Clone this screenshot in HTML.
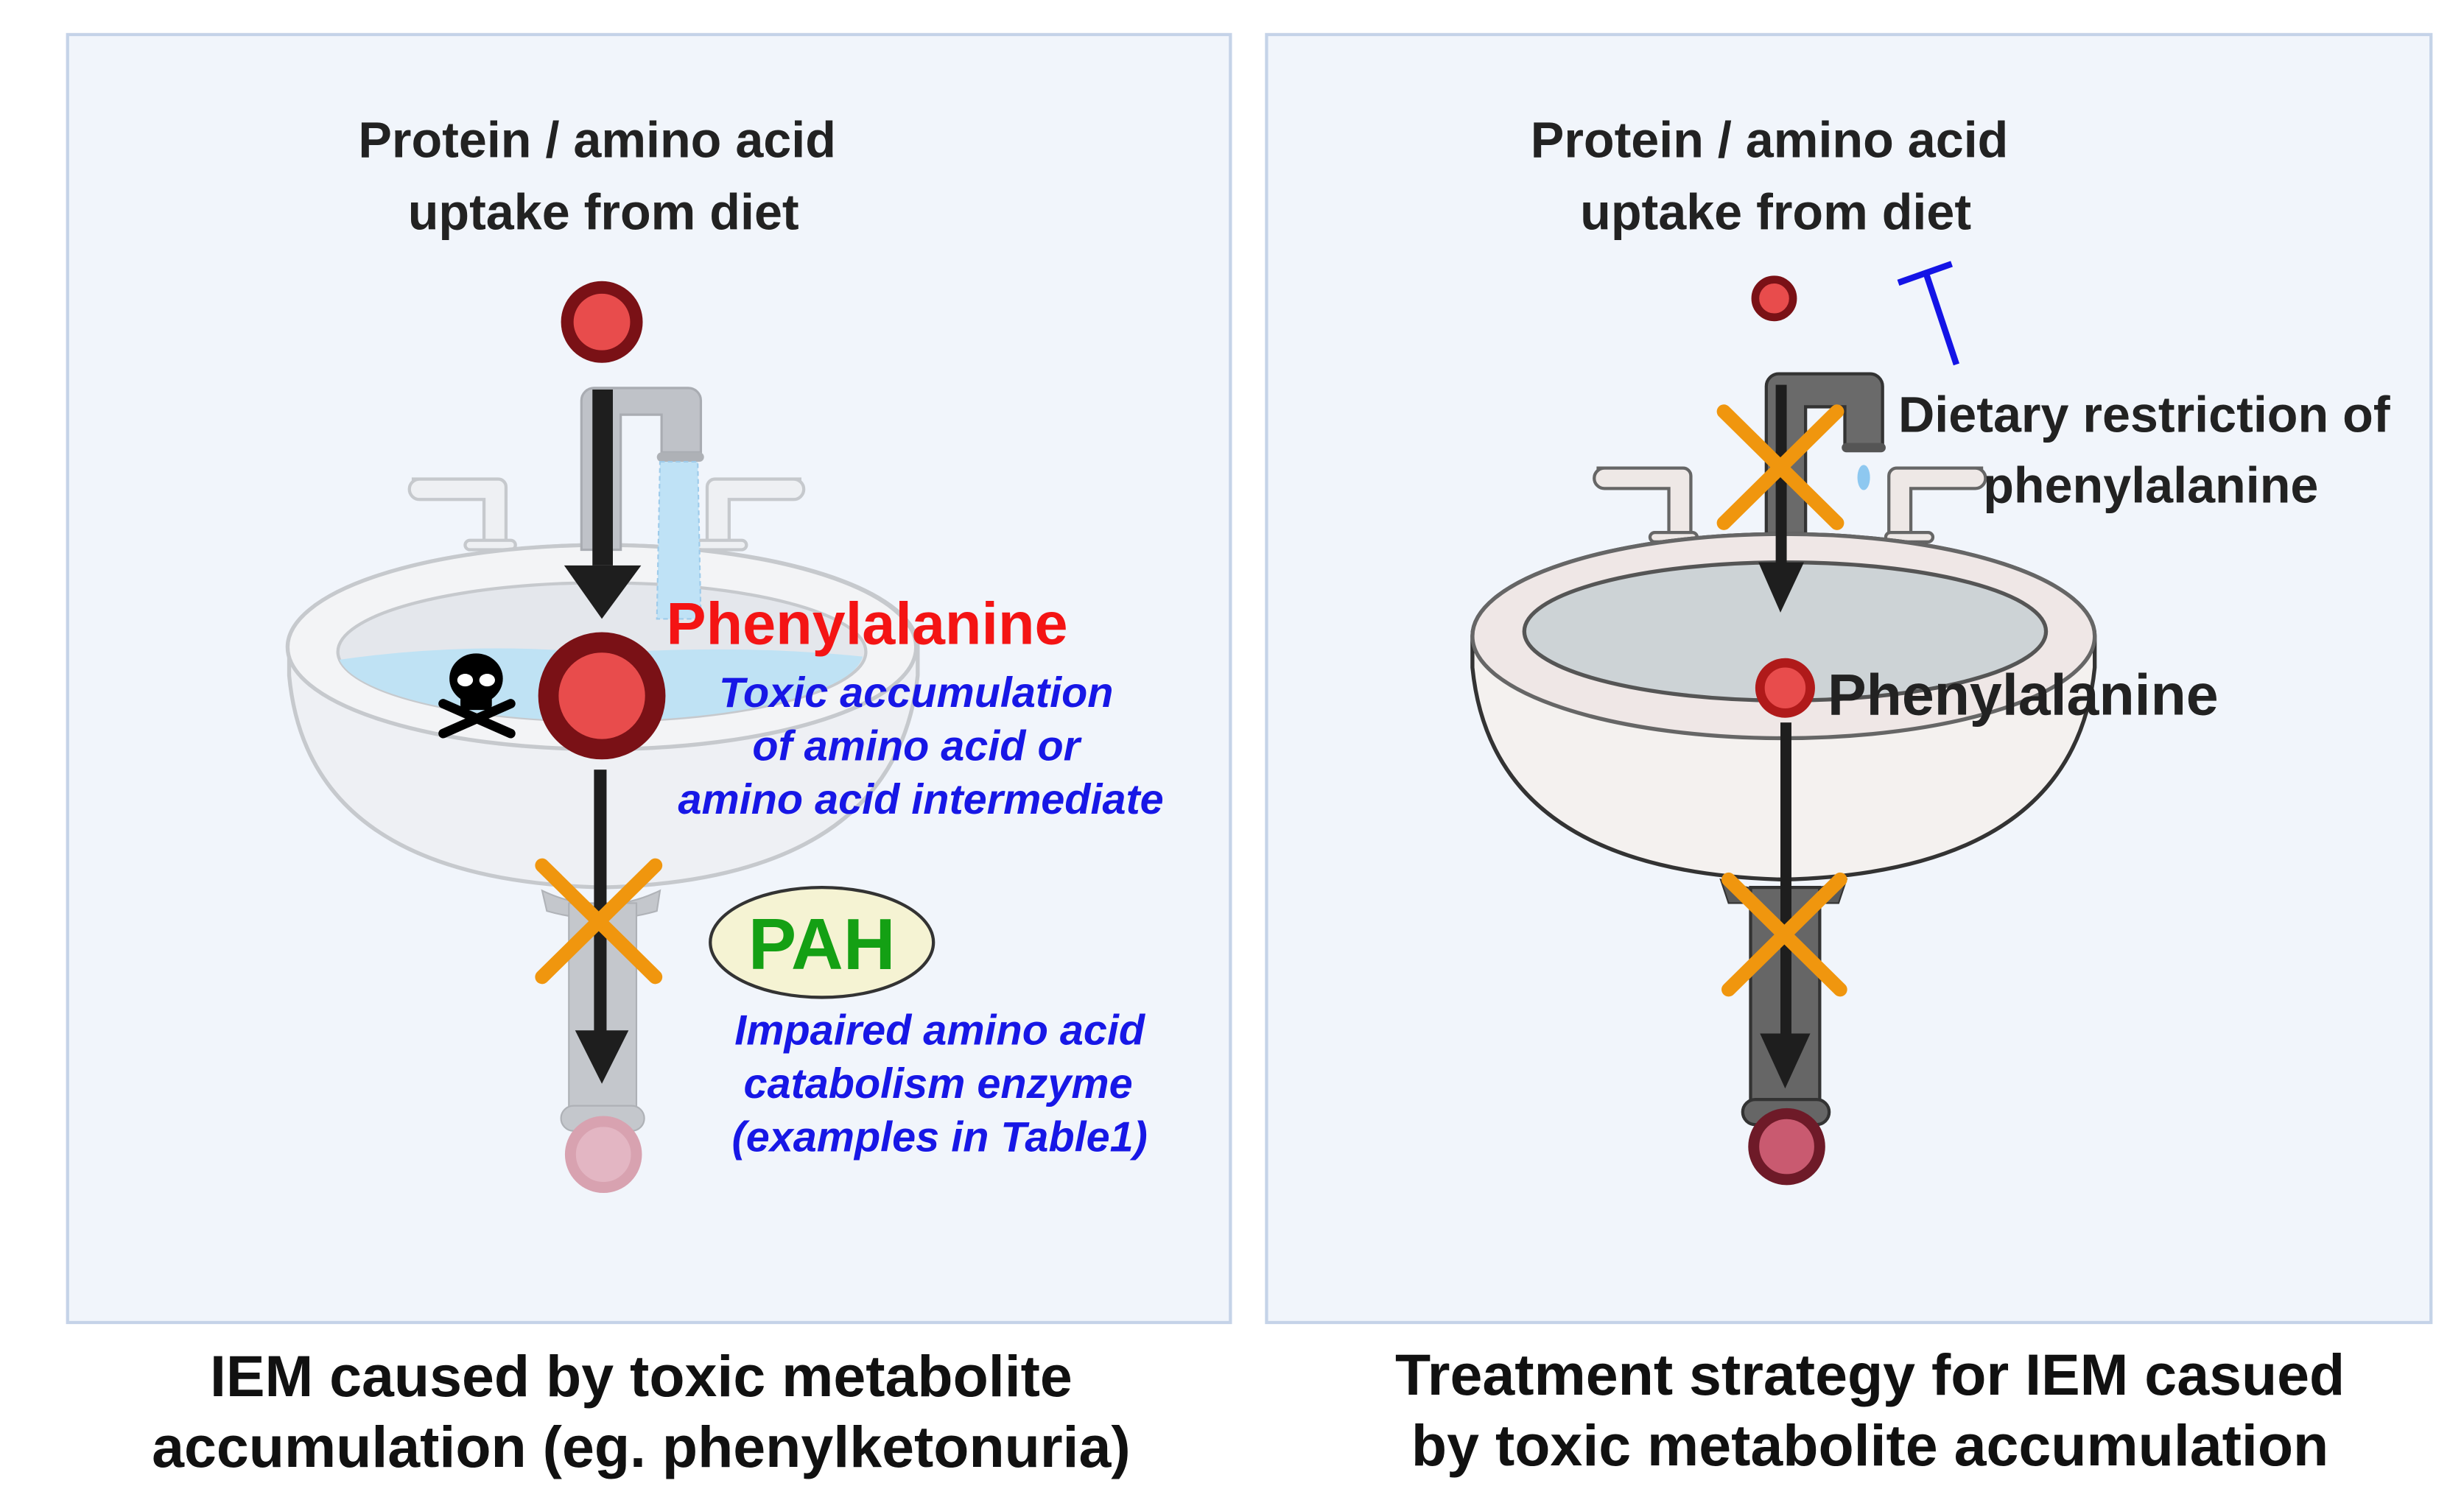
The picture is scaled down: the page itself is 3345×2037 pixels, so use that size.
<!DOCTYPE html>
<html><head><style>html,body{margin:0;padding:0;background:#fff}svg{display:block}text{font-family:"Liberation Sans",sans-serif;font-weight:bold}</style></head>
<body>
<svg width="3345" height="2037" viewBox="0 0 1568 955" preserveAspectRatio="none" xmlns="http://www.w3.org/2000/svg">
<rect width="1568" height="955" fill="#fff"/>
<rect x="43" y="22" width="740" height="820" fill="#f1f5fb" stroke="#c5d3e8" stroke-width="2"/>
<rect x="806" y="22" width="741" height="820" fill="#f1f5fb" stroke="#c5d3e8" stroke-width="2"/>

<!-- LEFT -->
<g font-size="32" fill="#222" text-anchor="middle">
<text x="380" y="100" fill="#222">Protein / amino acid</text>
<text x="384" y="146" fill="#222">uptake from diet</text>
</g>
<circle cx="383" cy="205" r="22" fill="#e84c4c" stroke="#7a1116" stroke-width="8"/>
<!-- handles -->
<g fill="#eef0f3" stroke="#c6c9cd" stroke-width="2">
<path d="M262 305 h55 a5 5 0 0 1 5 5 v38 h-14 v-30 h-41 a6 6 0 0 1 0 -13z"/>
<path d="M510 305 h-55 a5 5 0 0 0 -5 5 v38 h14 v-30 h41 a6 6 0 0 0 0 -13z"/>
<rect x="296" y="344" width="32" height="6" rx="3"/>
<rect x="443" y="344" width="32" height="6" rx="3"/>
</g>
<!-- sink -->
<path d="M184 412 A200 65 0 0 1 584 412 L584 430 Q570 560 383 565 Q196 560 184 430Z" fill="#eef0f4" stroke="#c6c9cd" stroke-width="2.5"/>
<ellipse cx="383" cy="412" rx="200" ry="65" fill="#f3f4f6" stroke="#c6c9cd" stroke-width="2.5"/>
<ellipse cx="383" cy="415" rx="168" ry="44" fill="#e4e7ec" stroke="#c6c9cd" stroke-width="2"/>
<path d="M216 420 Q300 408 383 416 Q470 410 549 418 A168 44 0 0 1 383 459 A168 44 0 0 1 216 420Z" fill="#bfe2f4"/>
<!-- faucet -->
<path d="M370 255 a8 8 0 0 1 8 -8 h60 a8 8 0 0 1 8 8 v33 h-25 v-24 h-26 v86 h-25z" fill="#bfc2c8" stroke="#a9acb2" stroke-width="1.5"/>
<rect x="418" y="288" width="30" height="6" rx="3" fill="#aeb1b6"/>
<path d="M420 294 h24 l2 100 h-28z" fill="#bfe2f6" stroke="#9ecbea" stroke-width="1" stroke-dasharray="3 2"/>
<!-- drain -->
<path d="M345 567 Q383 585 420 567 L418 580 Q383 590 348 580Z" fill="#c4c7cc" stroke="#b0b3b8"/>
<rect x="362" y="575" width="43" height="135" fill="#c4c7cc" stroke="#aeb1b6"/>
<rect x="357" y="704" width="53" height="16" rx="8" fill="#c4c7cc" stroke="#aeb1b6"/>
<circle cx="384" cy="735" r="21" fill="#e3b6c3" stroke="#d8a2b0" stroke-width="7"/>
<!-- arrows -->
<rect x="377" y="248" width="13" height="112" fill="#1e1e1e"/>
<polygon points="359,360 408,360 383,394" fill="#1e1e1e"/>
<circle cx="383" cy="443" r="34" fill="#e84c4c" stroke="#7a1116" stroke-width="13"/>
<rect x="378" y="490" width="8" height="168" fill="#1e1e1e"/>
<polygon points="366,656 400,656 383,690" fill="#1e1e1e"/>
<g stroke="#f0960e" stroke-width="9" stroke-linecap="round"><line x1="345" y1="551" x2="417" y2="622"/><line x1="417" y1="551" x2="345" y2="622"/></g>
<!-- skull -->
<g fill="#000">
<ellipse cx="303" cy="432" rx="17" ry="16"/><rect x="293" y="440" width="20" height="12" rx="3"/>
<g stroke="#000" stroke-width="6" stroke-linecap="round"><line x1="282" y1="448" x2="325" y2="467"/><line x1="325" y1="448" x2="282" y2="467"/></g>
<ellipse cx="296" cy="433" rx="5" ry="4" fill="#fff"/><ellipse cx="310" cy="433" rx="5" ry="4" fill="#fff"/>
</g>
<text x="424" y="410" font-size="38" fill="#f41414">Phenylalanine</text>
<g font-size="27" fill="#1717e6" font-style="italic" text-anchor="middle">
<text x="583" y="450">Toxic accumulation</text>
<text x="583" y="484">of amino acid or</text>
<text x="586" y="518">amino acid intermediate</text>
<text x="598" y="665">Impaired amino acid</text>
<text x="597" y="699">catabolism enzyme</text>
<text x="598" y="733">(examples in Table1)</text>
</g>
<ellipse cx="523" cy="600" rx="71" ry="35" fill="#f5f3d3" stroke="#333" stroke-width="2"/>
<text x="523" y="617" font-size="46" fill="#14a014" text-anchor="middle">PAH</text>

<!-- RIGHT -->
<g font-size="32" text-anchor="middle">
<text x="1126" y="100" fill="#222">Protein / amino acid</text>
<text x="1130" y="146" fill="#222">uptake from diet</text>
</g>
<circle cx="1129" cy="190" r="12" fill="#e84c4c" stroke="#7a1116" stroke-width="5"/>
<g stroke="#1414e6" stroke-width="4"><line x1="1245" y1="232" x2="1225" y2="172"/><line x1="1208" y1="180" x2="1242" y2="168"/></g>
<g fill="#eee8e6" stroke="#666" stroke-width="2">
<path d="M1016 298 h55 a5 5 0 0 1 5 5 v38 h-14 v-30 h-41 a6 6 0 0 1 0 -13z"/>
<path d="M1262 298 h-55 a5 5 0 0 0 -5 5 v38 h14 v-30 h41 a6 6 0 0 0 0 -13z"/>
<rect x="1050" y="339" width="30" height="6" rx="3"/>
<rect x="1200" y="339" width="30" height="6" rx="3"/>
</g>
<path d="M1124 246 a8 8 0 0 1 8 -8 h58 a8 8 0 0 1 8 8 v37 h-24 v-24 h-25 v90 h-25z" fill="#6a6a6a" stroke="#333" stroke-width="2"/>
<rect x="1172" y="282" width="28" height="6" rx="3" fill="#555"/>
<ellipse cx="1186" cy="304" rx="4" ry="8" fill="#8ec8f0"/>
<path d="M937 405 A198 65 0 0 1 1333 405 L1333 425 Q1320 555 1135 560 Q950 555 937 425Z" fill="#f4f1ef" stroke="#333" stroke-width="2.5"/>
<ellipse cx="1135" cy="405" rx="198" ry="65" fill="#efe7e6" stroke="#666" stroke-width="2.5"/>
<ellipse cx="1136" cy="402" rx="166" ry="44" fill="#cdd3d6" stroke="#555" stroke-width="2.5"/>
<path d="M1095 560 Q1135 575 1175 560 L1170 575 L1100 575Z" fill="#5a5a5a" stroke="#333"/>
<rect x="1114" y="565" width="44" height="140" fill="#666" stroke="#333" stroke-width="2"/>
<rect x="1109" y="700" width="55" height="16" rx="8" fill="#666" stroke="#333" stroke-width="2"/>
<circle cx="1137" cy="730" r="21" fill="#c95a70" stroke="#6e1a28" stroke-width="7"/>
<rect x="1130" y="245" width="7" height="115" fill="#1e1e1e"/>
<polygon points="1119,358 1148,358 1133,390" fill="#1e1e1e"/>
<circle cx="1136" cy="438" r="16" fill="#e84c4c" stroke="#b01a1a" stroke-width="6"/>
<rect x="1133" y="460" width="7" height="200" fill="#1e1e1e"/>
<polygon points="1120,658 1152,658 1136,693" fill="#1e1e1e"/>
<g stroke="#f0960e" stroke-width="9" stroke-linecap="round">
<line x1="1097" y1="262" x2="1169" y2="333"/><line x1="1169" y1="262" x2="1097" y2="333"/>
<line x1="1100" y1="560" x2="1171" y2="630"/><line x1="1171" y1="560" x2="1100" y2="630"/>
</g>
<text x="1208" y="275" font-size="32" fill="#222">Dietary restriction of</text>
<text x="1262" y="320" font-size="32" fill="#222">phenylalanine</text>
<text x="1163" y="455" font-size="37" fill="#222">Phenylalanine</text>

<!-- captions -->
<g font-size="37" fill="#111" text-anchor="middle">
<text x="408" y="889">IEM caused by toxic metabolite</text>
<text x="408" y="934">accumulation (eg. phenylketonuria)</text>
<text x="1190" y="888">Treatment strategy for IEM casued</text>
<text x="1190" y="933">by toxic metabolite accumulation</text>
</g>
</svg>
</body></html>
